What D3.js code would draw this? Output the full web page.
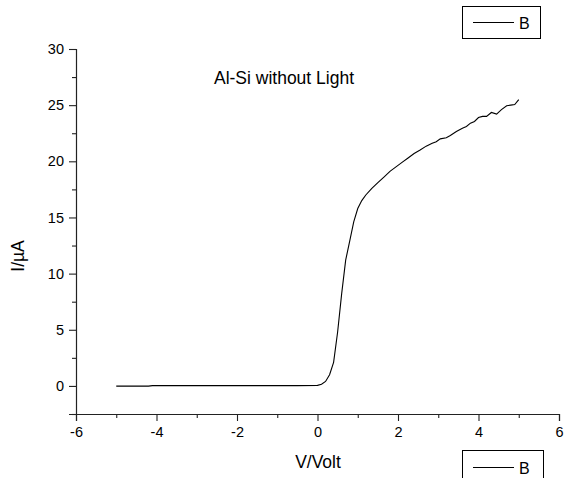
<!DOCTYPE html>
<html>
<head>
<meta charset="utf-8">
<script src="https://cdn.jsdelivr.net/npm/d3@7"></script>
<style>
  html, body { margin: 0; padding: 0; background: #fff; }
  svg { display: block; font-family: "Liberation Sans", Arial, sans-serif; }
</style>
</head>
<body>
<svg id="chart" width="567" height="478"></svg>
<script>
// ---- data ----
const voltage = [-5, -4.2, -4.1, -3, -2, -1, -0.5, 0, 0.1, 0.2, 0.3, 0.4, 0.5, 0.6, 0.7, 0.8, 0.9, 1.0, 1.1, 1.2, 1.35, 1.5, 1.65, 1.8, 1.95, 2.1, 2.25, 2.4, 2.55, 2.7, 2.85, 2.95, 3.05, 3.2, 3.3, 3.45, 3.6, 3.7, 3.8, 3.9, 4.0, 4.1, 4.2, 4.32, 4.45, 4.57, 4.7, 4.8, 4.9, 5.0];
const current = [-0.02, -0.02, 0.03, 0.03, 0.03, 0.03, 0.03, 0.05, 0.15, 0.4, 1.0, 2.1, 4.8, 8.2, 11.2, 12.9, 14.6, 15.8, 16.5, 17.0, 17.6, 18.1, 18.6, 19.1, 19.5, 19.9, 20.3, 20.7, 21.0, 21.35, 21.6, 21.75, 22.0, 22.1, 22.3, 22.65, 22.95, 23.1, 23.4, 23.55, 23.9, 24.0, 24.0, 24.35, 24.2, 24.6, 24.95, 25.0, 25.05, 25.5];
const xTicks = [-6, -4, -2, 0, 2, 4, 6];
const xTickLabels = ["-6", "-4", "-2", "0", "2", "4", "6"];
const xMinorTicks = [-5, -3, -1, 1, 3, 5];
const yTicks = [0, 5, 10, 15, 20, 25, 30];
const yTickLabels = ["0", "5", "10", "15", "20", "25", "30"];
const yMinorTicks = [-2.5, 2.5, 7.5, 12.5, 17.5, 22.5, 27.5];
const title = "Al-Si without Light";
const xLabel = "V/Volt";
const yLabel = "I/\u00B5A";
const seriesName = "B";

const svg = d3.select("#chart");
const x = d3.scaleLinear().domain([-6, 6]).range([76, 559]);
const y = d3.scaleLinear().domain([-2.5, 30]).range([414, 49]);

const axisColor = "#222";

// x axis
svg.append("g").attr("transform", `translate(0,${y(-2.5)})`)
  .call(d3.axisBottom(x).tickValues(xTicks).tickSize(7).tickPadding(6)
    .tickFormat((d, i) => xTickLabels[i]));
svg.append("g").attr("transform", `translate(0,${y(-2.5)})`)
  .call(d3.axisBottom(x).tickValues(xMinorTicks).tickSize(4).tickFormat(""))
  .select(".domain").remove();

// y axis
svg.append("g").attr("transform", `translate(${x(-6)},0)`)
  .call(d3.axisLeft(y).tickValues(yTicks).tickSize(7).tickPadding(5)
    .tickFormat((d, i) => yTickLabels[i]));
svg.append("g").attr("transform", `translate(${x(-6)},0)`)
  .call(d3.axisLeft(y).tickValues(yMinorTicks).tickSize(4).tickFormat(""))
  .select(".domain").remove();

svg.selectAll(".domain").attr("stroke", axisColor).attr("stroke-width", 1.2);
svg.selectAll(".tick line").attr("stroke", axisColor).attr("stroke-width", 1.1);
svg.selectAll(".tick text").attr("fill", "#000").style("font-size", "14.5px")
  .style("font-family", "'Liberation Sans', Arial, sans-serif");

// curve
const pts = voltage.map((v, i) => [v, current[i]]);
svg.append("path")
  .datum(pts)
  .attr("fill", "none")
  .attr("stroke", "#000")
  .attr("stroke-width", 1.1)
  .attr("d", d3.line().x(d => x(d[0])).y(d => y(d[1])));

// title
svg.append("text").attr("x", 284).attr("y", 84).attr("text-anchor", "middle")
  .style("font-size", "17.5px").text(title);

// axis labels
svg.append("text").attr("x", 318).attr("y", 468).attr("text-anchor", "middle")
  .style("font-size", "17.5px").text(xLabel);
svg.append("text").attr("transform", "translate(24,256) rotate(-90)").attr("text-anchor", "middle")
  .style("font-size", "17.5px").text(yLabel);

// legends
function legend(x0, y0, w, h, lineY) {
  const g = svg.append("g");
  g.append("rect").attr("x", x0 + 0.5).attr("y", y0 + 0.5).attr("width", w).attr("height", h)
    .attr("fill", "#fff").attr("stroke", "#000").attr("stroke-width", 1);
  g.append("line").attr("x1", x0 + 11).attr("x2", x0 + 52).attr("y1", lineY).attr("y2", lineY)
    .attr("stroke", "#000").attr("stroke-width", 1);
  g.append("text").attr("x", x0 + 57).attr("y", lineY + 6).style("font-size", "16px").text(seriesName);
}
legend(462, 6, 78, 32, 22.5);
legend(462, 450, 81, 40, 467.5);
</script>
</body>
</html>
